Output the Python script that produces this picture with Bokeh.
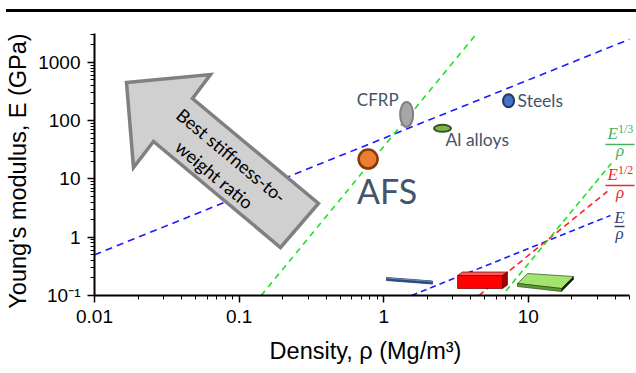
import math
from bokeh.plotting import figure
from bokeh.layouts import column
from bokeh.models import FixedTicker, Range1d, Div
from bokeh.core.properties import value
from bokeh.embed import file_html
from bokeh.resources import INLINE

# ---------------- data ----------------
materials = ["AFS", "CFRP", "Al alloys", "Steels"]
density = [0.78, 1.44, 2.55, 7.3]          # Mg/m^3
modulus = [22, 128, 74, 220]               # GPa

# guide lines (end points)
g_upper_blue_x = [0.01, 50]
g_upper_blue_y = [0.5, 2500]
g_upper_green_x = [0.142, 4.4]
g_upper_green_y = [0.1, 3140]
g_low_blue_x = [1.56, 37]
g_low_blue_y = [0.1, 2.36]
g_low_red_x = [4.55, 35.2]
g_low_red_y = [0.1, 6.1]
g_low_green_x = [7.0, 37.5]
g_low_green_y = [0.12, 18.5]

x_ticks = [0.01, 0.1, 1, 10]
x_tick_labels = ["0.01", "0.1", "1", "10"]
y_ticks = [0.1, 1, 10, 100, 1000]
y_tick_labels = ["10\u207b\u00b9", "1", "10", "100", "1000"]

X_MIN, X_MAX, X_AXIS_END = 0.01, 56, 50
Y_MIN, Y_MAX = 0.1, 3140

# ---------------- layout helpers (page pixels -> data) ----------------
PAGE_W, PAGE_H = 636, 373
TOP_H = 12
FR_L, FR_R, FR_T, FR_B = 94, 636, 33, 295
PXDX = (FR_R - FR_L) / math.log10(X_MAX / X_MIN)
PXDY = (FR_B - FR_T) / math.log10(Y_MAX / Y_MIN)

def px2x(px):
    return 10 ** (math.log10(X_MIN) + (px - FR_L) / PXDX)

def px2y(py):
    return 10 ** (math.log10(Y_MIN) + (FR_B - py) / PXDY)

def poly(pts):
    return [px2x(a) for a, b in pts], [px2y(b) for a, b in pts]

# ---------------- top rule ----------------
rule = Div(text="", width=PAGE_W - 6, height=TOP_H, margin=(0, 0, 0, 6),
           styles={"border-bottom": "3px solid black", "box-sizing": "border-box"})

# ---------------- main figure ----------------
H = PAGE_H - TOP_H
p = figure(width=PAGE_W, height=H, x_axis_type="log", y_axis_type="log",
           x_range=Range1d(X_MIN, X_MAX), y_range=Range1d(Y_MIN, Y_MAX),
           output_backend="svg", toolbar_location=None,
           min_border_left=FR_L, min_border_right=PAGE_W - FR_R,
           min_border_top=FR_T - TOP_H, min_border_bottom=PAGE_H - FR_B)
p.outline_line_color = None
p.xgrid.visible = False
p.ygrid.visible = False

minor_x = [k * 10 ** e for e in (-2, -1, 0) for k in range(2, 10)] + [20, 30, 40, 50]
minor_y = [k * 10 ** e for e in (-1, 0, 1, 2) for k in range(2, 10)] + [2000, 3000]
p.xaxis.ticker = FixedTicker(ticks=x_ticks, minor_ticks=minor_x)
p.yaxis.ticker = FixedTicker(ticks=y_ticks, minor_ticks=minor_y)
p.xaxis.major_label_overrides = dict(zip(x_ticks, x_tick_labels))
p.yaxis.major_label_overrides = dict(zip(y_ticks, y_tick_labels))
p.xaxis.bounds = (X_MIN, X_AXIS_END)

for ax in (p.xaxis[0], p.yaxis[0]):
    ax.axis_line_width = 2
    ax.axis_line_color = "black"
    ax.major_tick_line_width = 1.5
    ax.major_tick_line_color = "black"
    ax.minor_tick_line_color = "black"
    ax.minor_tick_line_width = 1
    ax.major_tick_in = 0
    ax.major_tick_out = 7
    ax.minor_tick_in = 0
    ax.minor_tick_out = 4
    ax.major_label_text_font = "Liberation Sans"
    ax.major_label_text_font_size = "19px"
    ax.major_label_text_color = "black"
    ax.axis_label_text_font = "Liberation Sans"
    ax.axis_label_text_font_size = "23.5px"
    ax.axis_label_text_font_style = "normal"
    ax.axis_label_text_color = "black"

p.xaxis.axis_label = "Density, \u03c1 (Mg/m\u00b3)"
p.yaxis.axis_label = "Young's modulus, E (GPa)\u00a0\u00a0"
p.xaxis.major_label_standoff = 7
p.yaxis.major_label_standoff = 7
p.xaxis.axis_label_standoff = 12
p.yaxis.axis_label_standoff = 4

# ---------------- guide lines ----------------
BLUE, GREEN, RED = "#1a1aff", "#22e022", "#ff2020"
p.line(g_upper_blue_x, g_upper_blue_y, line_color=BLUE, line_width=1.6, line_dash="7 5")
p.line(g_upper_green_x, g_upper_green_y, line_color=GREEN, line_width=1.6, line_dash="6 5")
p.line(g_low_blue_x, g_low_blue_y, line_color=BLUE, line_width=1.6, line_dash="6 4")
p.line(g_low_red_x, g_low_red_y, line_color=RED, line_width=1.6, line_dash="6 4")
p.line(g_low_green_x, g_low_green_y, line_color=GREEN, line_width=1.6, line_dash="6 4")

# ---------------- big arrow ----------------
arrow_px = [(126, 82), (210, 74), (192, 98), (318, 203), (280, 247), (153, 141), (133, 167)]
ax_, ay_ = poly(arrow_px)
p.patch(ax_, ay_, fill_color="#d0d0d0", line_color="#808080", line_width=3.5, line_join="miter")
ang = -math.atan2(90, 108)
p.text(x=[px2x(231), px2x(214)], y=[px2y(155), px2y(174)],
       text=["Best stiffness-to-", "weight ratio"], angle=ang,
       text_font=value("Lato"), text_font_size="18px", text_color="black",
       text_align="center", text_baseline="middle")

# ---------------- decorative 3D shapes ----------------
bx, by = poly([(386, 277), (432, 280.5), (432, 283.5), (386, 280)])
p.patch(bx, by, fill_color="#2b4c80", line_color="#1f3864", line_width=0.8)
bx, by = poly([(386, 277), (432, 280.5), (432, 281.5), (386, 278)])
p.patch(bx, by, fill_color="#6a8cc0", line_color=None)

for pts, col in [([(457, 275), (502, 275), (502, 288), (457, 288)], "#ff0000"),
                 ([(457, 275), (462, 271.5), (507, 271.5), (502, 275)], "#ff5a5a"),
                 ([(502, 275), (507, 271.5), (507, 284.5), (502, 288)], "#a00000")]:
    xx, yy = poly(pts)
    p.patch(xx, yy, fill_color=col, line_color="#700000", line_width=0.7)

for pts, col in [([(517, 283), (527, 273), (573, 276), (561, 288)], "#a2e46e"),
                 ([(517, 283), (561, 288), (561, 291), (517, 286)], "#5e9a35"),
                 ([(561, 288), (573, 276), (573, 279), (561, 291)], "#1a1a1a")]:
    xx, yy = poly(pts)
    p.patch(xx, yy, fill_color=col, line_color="#2a4a18", line_width=0.7)

# ---------------- material markers ----------------
p.scatter([density[0]], [modulus[0]], size=19, fill_color="#ed7d31",
          line_color="#843c0c", line_width=2.5)
p.ellipse([density[1]], [modulus[1]], width=13, height=25, width_units="screen",
          height_units="screen", fill_color="#a6a6a6", line_color="#808080", line_width=2)
p.ellipse([density[2]], [modulus[2]], width=17, height=7, width_units="screen",
          height_units="screen", fill_color="#7db44a", line_color="#375623", line_width=2)
p.ellipse([density[3]], [modulus[3]], width=11, height=13, width_units="screen",
          height_units="screen", fill_color="#4472c4", line_color="#1f3864", line_width=2)

LBL = "#44546a"
p.text([density[0]], [modulus[0]], text=[materials[0]], x_offset=19, y_offset=31,
       text_font=value("Lato"), text_font_size="34px", text_color=LBL,
       text_align="center", text_baseline="middle")
p.text([density[1]], [modulus[1]], text=[materials[1]], x_offset=-8, y_offset=-15,
       text_font=value("Lato"), text_font_size="17px", text_color=LBL,
       text_align="right", text_baseline="middle")
p.text([density[2]], [modulus[2]], text=[materials[2]], x_offset=3, y_offset=11,
       text_font=value("Lato"), text_font_size="17.5px", text_color=LBL,
       text_align="left", text_baseline="middle")
p.text([density[3]], [modulus[3]], text=[materials[3]], x_offset=9, y_offset=0,
       text_font=value("Lato"), text_font_size="17.5px", text_color=LBL,
       text_align="left", text_baseline="middle")

# ---------------- index labels on the right ----------------
SERIF = value("Liberation Serif")
def frac(num_x, num_y, sup, bar_y, bar_l, bar_r, rho_y, col):
    if sup:
        p.text([px2x(num_x)], [px2y(num_y)], text=["E"], text_font=SERIF,
               text_font_style="italic", text_font_size="17px", text_color=col,
               text_align="left", text_baseline="middle")
        p.text([px2x(num_x + 10.5)], [px2y(num_y - 5)], text=[sup], text_font=SERIF,
               text_font_size="12px", text_color=col,
               text_align="left", text_baseline="middle")
    else:
        p.text([px2x(num_x)], [px2y(num_y)], text=["E"], text_font=SERIF,
               text_font_style="italic", text_font_size="17px", text_color=col,
               text_align="center", text_baseline="middle")
    p.line([px2x(bar_l), px2x(bar_r)], [px2y(bar_y)] * 2, line_color=col, line_width=1.5)
    p.text([px2x((bar_l + bar_r) / 2)], [px2y(rho_y)], text=["\u03c1"], text_font=SERIF,
           text_font_style="italic", text_font_size="17px", text_color=col,
           text_align="center", text_baseline="middle")

frac(607, 133, "1/3", 144, 605, 634, 150, "#45b060")
frac(607, 174, "1/2", 185, 605, 634, 192, "#e8282e")
frac(619, 217, None, 226, 614, 624, 233, "#2f3f7a")

layout = column(rule, p, spacing=0)
open("out.html", "w").write(file_html(layout, INLINE))
